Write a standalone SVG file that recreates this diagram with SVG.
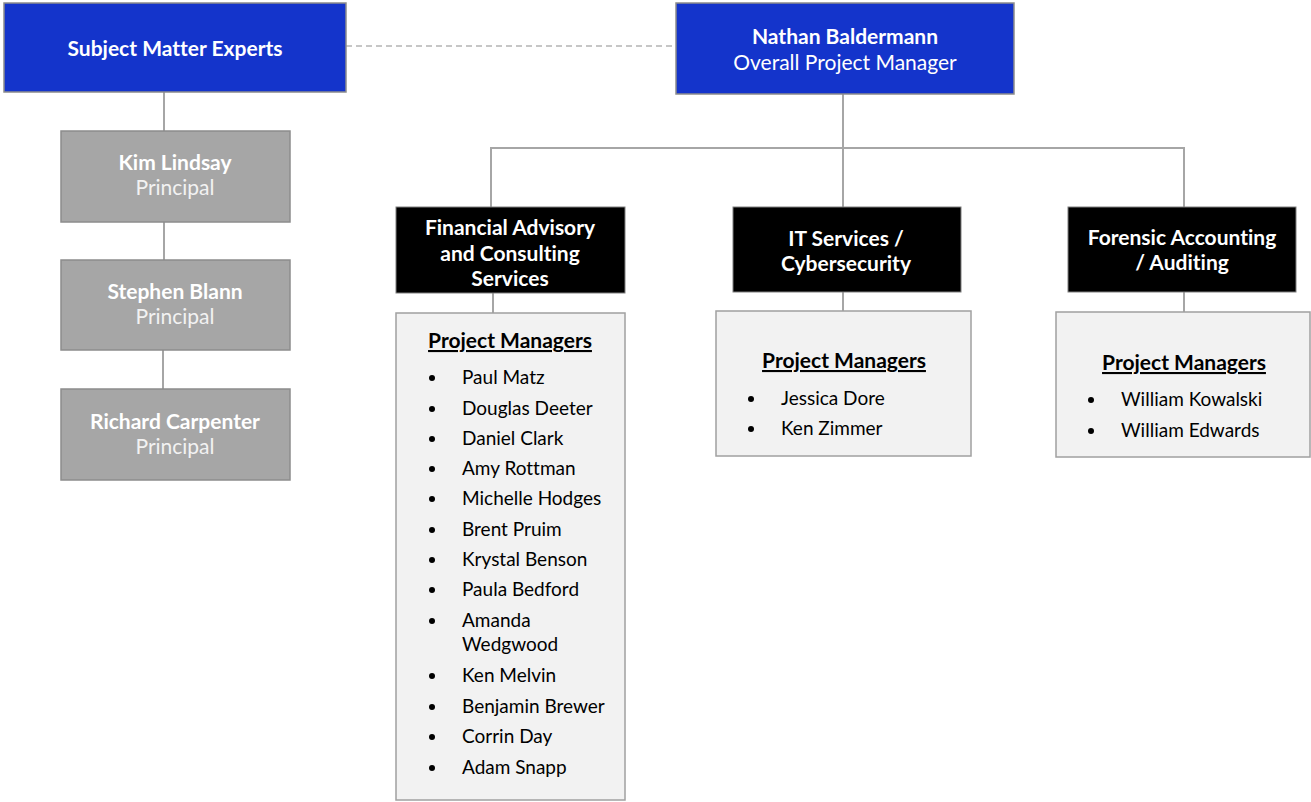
<svg xmlns="http://www.w3.org/2000/svg" width="1311" height="802" viewBox="0 0 1311 802">
<style>
text{font-family:Lato,"Open Sans","Liberation Sans",sans-serif;font-variant-ligatures:none}
.blue{fill:#1434CB;stroke:#8c8c8c;stroke-width:1.5}
.grey{fill:#A6A6A6;stroke:#8c8c8c;stroke-width:1.5}
.black{fill:#000;stroke:#7f7f7f;stroke-width:1}
.list{fill:#F2F2F2;stroke:#A0A0A0;stroke-width:1.5}
.conn{stroke:#A6A6A6;stroke-width:2;fill:none}
.dash{stroke:#B4B4B4;stroke-width:1.5;stroke-dasharray:6 4;fill:none}
.wb{fill:#fff;font-weight:bold;font-size:21px;text-anchor:middle}
.wr{fill:#fff;font-size:21px;text-anchor:middle}
.gb{fill:#fff;font-weight:bold;font-size:21px;text-anchor:middle}
.gr{fill:#F2F2F2;font-size:21px;text-anchor:middle}
.hd{fill:#000;font-weight:bold;font-size:21px;text-anchor:middle;text-decoration:underline}
.it{fill:#000;font-size:19px}
.bul{fill:#000}
</style>
<g id="connectors">
<line class="dash" x1="346" y1="46" x2="676" y2="46"/>
<line class="conn" x1="843" y1="94" x2="843" y2="148"/>
<polyline class="conn" points="491,207 491,148 1184,148 1184,207"/>
<line class="conn" x1="843" y1="148" x2="843" y2="207"/>
<line class="conn" x1="164" y1="92" x2="164" y2="131"/>
<line class="conn" x1="164" y1="222" x2="164" y2="260"/>
<line class="conn" x1="163" y1="350" x2="163" y2="389"/>
<line class="conn" x1="493" y1="293" x2="493" y2="313"/>
<line class="conn" x1="843" y1="292" x2="843" y2="311"/>
<line class="conn" x1="1184" y1="292" x2="1184" y2="312"/>
</g>
<g id="sme">
<rect class="blue" x="4" y="3" width="342" height="89"/>
<text class="wb" x="175" y="56">Subject Matter Experts</text>
</g>
<g id="nathan">
<rect class="blue" x="676" y="3" width="338" height="91"/>
<text class="wb" x="845" y="44">Nathan Baldermann</text>
<text class="wr" x="845" y="70">Overall Project Manager</text>
</g>
<g id="kim">
<rect class="grey" x="61" y="131" width="229" height="91"/>
<text class="gb" x="175" y="170">Kim Lindsay</text>
<text class="gr" x="175" y="195">Principal</text>
</g>
<g id="stephen">
<rect class="grey" x="61" y="260" width="229" height="90"/>
<text class="gb" x="175" y="299">Stephen Blann</text>
<text class="gr" x="175" y="324">Principal</text>
</g>
<g id="richard">
<rect class="grey" x="61" y="389" width="229" height="91"/>
<text class="gb" x="175" y="429">Richard Carpenter</text>
<text class="gr" x="175" y="454">Principal</text>
</g>
<g id="financial">
<rect class="black" x="396" y="207" width="229" height="86"/>
<text class="wb" x="510" y="235">Financial Advisory</text>
<text class="wb" x="510" y="261">and Consulting</text>
<text class="wb" x="510" y="286">Services</text>
</g>
<g id="itservices">
<rect class="black" x="733" y="207" width="228" height="85"/>
<text class="wb" x="846" y="246">IT Services /</text>
<text class="wb" x="846" y="271">Cybersecurity</text>
</g>
<g id="forensic">
<rect class="black" x="1068" y="207" width="228" height="85"/>
<text class="wb" x="1182" y="245">Forensic Accounting</text>
<text class="wb" x="1182" y="270">/ Auditing</text>
</g>
<g id="financial-pms">
<rect class="list" x="396" y="313" width="229" height="487"/>
<text class="hd" x="510" y="348">Project Managers</text>
<g class="bul">
<circle cx="432" cy="378" r="3"/><circle cx="432" cy="409" r="3"/><circle cx="432" cy="439" r="3"/><circle cx="432" cy="469" r="3"/><circle cx="432" cy="499" r="3"/><circle cx="432" cy="530" r="3"/><circle cx="432" cy="560" r="3"/><circle cx="432" cy="590" r="3"/><circle cx="432" cy="621" r="3"/><circle cx="432" cy="676" r="3"/><circle cx="432" cy="707" r="3"/><circle cx="432" cy="737" r="3"/><circle cx="432" cy="768" r="3"/>
</g>
<text class="it" x="462" y="384">Paul Matz</text>
<text class="it" x="462" y="415">Douglas Deeter</text>
<text class="it" x="462" y="445">Daniel Clark</text>
<text class="it" x="462" y="475">Amy Rottman</text>
<text class="it" x="462" y="505">Michelle Hodges</text>
<text class="it" x="462" y="536">Brent Pruim</text>
<text class="it" x="462" y="566">Krystal Benson</text>
<text class="it" x="462" y="596">Paula Bedford</text>
<text class="it" x="462" y="627">Amanda</text>
<text class="it" x="462" y="651">Wedgwood</text>
<text class="it" x="462" y="682">Ken Melvin</text>
<text class="it" x="462" y="713">Benjamin Brewer</text>
<text class="it" x="462" y="743">Corrin Day</text>
<text class="it" x="462" y="774">Adam Snapp</text>
</g>
<g id="it-pms">
<rect class="list" x="716" y="311" width="255" height="145"/>
<text class="hd" x="844" y="368">Project Managers</text>
<circle class="bul" cx="751" cy="399" r="3"/><circle class="bul" cx="751" cy="429" r="3"/>
<text class="it" x="781" y="405">Jessica Dore</text>
<text class="it" x="781" y="435">Ken Zimmer</text>
</g>
<g id="forensic-pms">
<rect class="list" x="1056" y="312" width="254" height="145"/>
<text class="hd" x="1184" y="370">Project Managers</text>
<circle class="bul" cx="1091" cy="400" r="3"/><circle class="bul" cx="1091" cy="431" r="3"/>
<text class="it" x="1121" y="406">William Kowalski</text>
<text class="it" x="1121" y="437">William Edwards</text>
</g>
</svg>
